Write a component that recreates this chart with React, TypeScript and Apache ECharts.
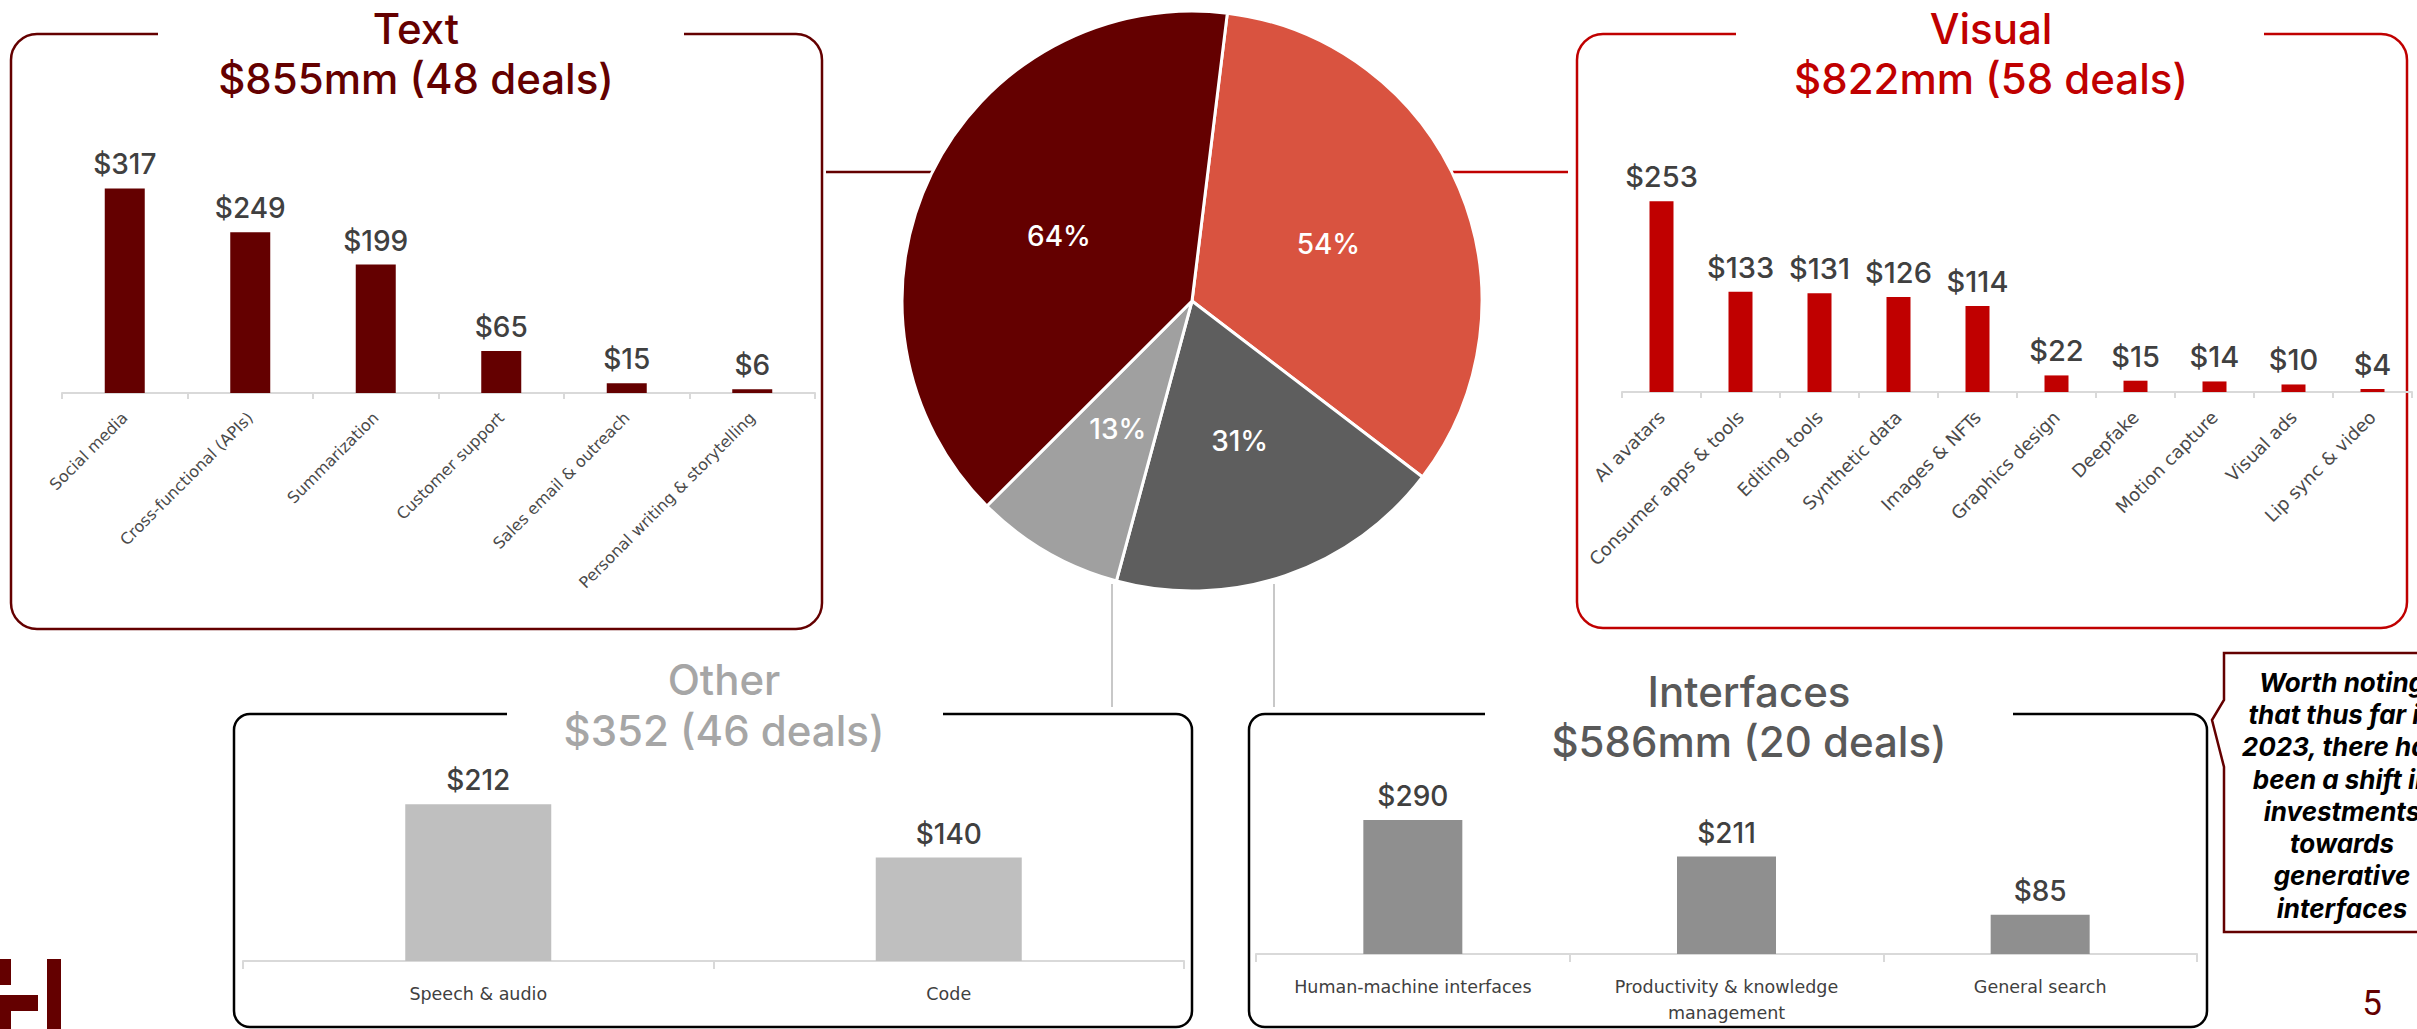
import React, { useEffect, useRef } from "react";
import * as echarts from "echarts";

// ---------- data ----------
const textCategories = [
  "Social media",
  "Cross-functional (APIs)",
  "Summarization",
  "Customer support",
  "Sales email & outreach",
  "Personal writing & storytelling",
];
const textValues = [317, 249, 199, 65, 15, 6];

const visualCategories = [
  "AI avatars",
  "Consumer apps & tools",
  "Editing tools",
  "Synthetic data",
  "Images & NFTs",
  "Graphics design",
  "Deepfake",
  "Motion capture",
  "Visual ads",
  "Lip sync & video",
];
const visualValues = [253, 133, 131, 126, 114, 22, 15, 14, 10, 4];

const otherCategories = ["Speech & audio", "Code"];
const otherValues = [212, 140];

const interfaceCategories = [
  "Human-machine interfaces",
  "Productivity & knowledge\nmanagement",
  "General search",
];
const interfaceValues = [290, 211, 85];

const pieNames = ["Visual", "Interfaces", "Other", "Text"];
const pieShares = [33.4, 18.8, 8.3, 39.4];
const pieLabels = ["54%", "31%", "13%", "64%"];

const panelTitles = [
  ["Text", "$855mm (48 deals)"],
  ["Visual", "$822mm (58 deals)"],
  ["Other", "$352 (46 deals)"],
  ["Interfaces", "$586mm (20 deals)"],
];

const noteLines = [
  "Worth noting",
  "that thus far in",
  "2023, there has",
  "been a shift in",
  "investments",
  "towards",
  "generative",
  "interfaces",
];
const pageNumber = "5";

// ---------- styles ----------
const C_TEXT = "#640000";
const C_VISUAL = "#C00000";
const C_PIE_VISUAL = "#D95340";
const C_PIE_INTERF = "#5E5E5E";
const C_PIE_OTHER = "#A0A0A0";
const C_BAR_OTHER = "#BFBFBF";
const C_BAR_INTERF = "#8F8F8F";
const VALUE_COLOR = "#404040";
const AXIS_COLOR = "#D9D9D9";
const MAIN_FONT = "Inter";

function makeAxis(gridIndex: number, data: string[], label: any, tickLen: number) {
  return {
    type: "category",
    gridIndex,
    data,
    axisLine: { show: true, lineStyle: { color: AXIS_COLOR, width: 2 } },
    axisTick: { show: true, length: tickLen, lineStyle: { color: AXIS_COLOR, width: 2 } },
    axisLabel: label,
  };
}

function makeBar(idx: number, data: number[], color: string, barWidth: number, fontSize: number) {
  return {
    type: "bar",
    xAxisIndex: idx,
    yAxisIndex: idx,
    data,
    barWidth,
    itemStyle: { color },
    label: {
      show: true,
      position: "top",
      distance: 10,
      formatter: (p: any) => "$" + p.value,
      color: VALUE_COLOR,
      fontSize,
      fontWeight: 500,
      fontFamily: MAIN_FONT,
    },
  };
}

function titleText(x: number, y: number, text: string, color: string) {
  return {
    type: "text",
    x,
    y,
    z: 5,
    style: {
      text,
      align: "center",
      verticalAlign: "middle",
      fontSize: 42,
      fontFamily: MAIN_FONT,
      fontWeight: 500,
      fill: color,
    },
  };
}

function box(x: number, y: number, w: number, h: number, r: number, color: string, gapFrom: number, gapTo: number) {
  return [
    {
      type: "rect",
      z: 0,
      shape: { x, y, width: w, height: h, r },
      style: { fill: "none", stroke: color, lineWidth: 2.5 },
    },
    {
      type: "rect",
      z: 1,
      shape: { x: gapFrom, y: y - 4, width: gapTo - gapFrom, height: 8 },
      style: { fill: "#ffffff", stroke: "none" },
    },
  ];
}

function line(x1: number, y1: number, x2: number, y2: number, color: string, w: number) {
  return {
    type: "line",
    z: 0,
    shape: { x1, y1, x2, y2 },
    style: { stroke: color, lineWidth: w },
  };
}

export default function App() {
  const ref = useRef<HTMLDivElement>(null);

  useEffect(() => {
    if (!ref.current) return;
    const chart = echarts.init(ref.current, undefined, { renderer: "svg" });

    const rotLabel = (fontSize: number) => ({
      rotate: 45,
      margin: 22,
      fontSize,
      fontFamily: "DejaVu Sans",
      color: "#4A4A4A",
      interval: 0,
    });
    const flatLabel = {
      margin: 20,
      fontSize: 17.5,
      fontFamily: "DejaVu Sans",
      color: "#404040",
      interval: 0,
      lineHeight: 26,
    };

    const graphics: any[] = [];
    graphics.push(...box(11, 34, 811, 595, 26, C_TEXT, 158, 684));
    graphics.push(...box(1577, 34, 830, 594, 26, C_VISUAL, 1736, 2264));
    graphics.push(...box(234, 714, 958, 313, 16, "#000000", 507, 943));
    graphics.push(...box(1249, 714, 958, 313, 16, "#000000", 1485, 2013));

    graphics.push(line(826, 172, 934, 172, C_TEXT, 2.5));
    graphics.push(line(1450, 172, 1568, 172, C_VISUAL, 2.5));
    graphics.push(line(1112, 584, 1112, 707, "#C8C8C8", 2));
    graphics.push(line(1274, 584, 1274, 707, "#C8C8C8", 2));

    graphics.push(titleText(416, 28, panelTitles[0][0], C_TEXT));
    graphics.push(titleText(416, 78, panelTitles[0][1], C_TEXT));
    graphics.push(titleText(1991, 28, panelTitles[1][0], C_VISUAL));
    graphics.push(titleText(1991, 78, panelTitles[1][1], C_VISUAL));
    graphics.push(titleText(724, 679, panelTitles[2][0], "#A6A6A6"));
    graphics.push(titleText(724, 730, panelTitles[2][1], "#A6A6A6"));
    graphics.push(titleText(1749, 691, panelTitles[3][0], "#595959"));
    graphics.push(titleText(1749, 741, panelTitles[3][1], "#595959"));

    graphics.push({
      type: "polygon",
      z: 1,
      shape: {
        points: [
          [2224, 653],
          [2440, 653],
          [2440, 932],
          [2224, 932],
          [2224, 767],
          [2212, 720],
          [2224, 700],
        ],
      },
      style: { fill: "#ffffff", stroke: C_TEXT, lineWidth: 2.5 },
    });
    graphics.push({
      type: "text",
      x: 2342,
      y: 666,
      z: 5,
      style: {
        text: noteLines.join("\n"),
        align: "center",
        verticalAlign: "top",
        fontSize: 26,
        lineHeight: 32.3,
        fontFamily: MAIN_FONT,
        fontWeight: 700,
        fontStyle: "italic",
        fill: "#000000",
      },
    });

    graphics.push({
      type: "text",
      x: 2372,
      y: 1003,
      z: 5,
      style: {
        text: pageNumber,
        align: "center",
        verticalAlign: "middle",
        fontSize: 35,
        fontFamily: "Roboto",
        fill: C_TEXT,
      },
    });

    const logoRects = [
      [0, 959, 11, 26],
      [0, 995, 38, 16],
      [0, 1011, 11, 18],
      [47, 959, 14, 70],
    ];
    logoRects.forEach(([x, y, w, h]) =>
      graphics.push({ type: "rect", z: 1, shape: { x, y, width: w, height: h }, style: { fill: C_TEXT } })
    );

    const option: any = {
      animation: false,
      backgroundColor: "#ffffff",
      grid: [
        { left: 62, top: 100, width: 753, height: 293 },
        { left: 1622, top: 100, width: 790, height: 292 },
        { left: 243, top: 760, width: 941, height: 201 },
        { left: 1256, top: 760, width: 941, height: 194 },
      ],
      xAxis: [
        makeAxis(0, textCategories, rotLabel(16), 6),
        makeAxis(1, visualCategories, rotLabel(18), 6),
        makeAxis(2, otherCategories, flatLabel, 8),
        makeAxis(3, interfaceCategories, flatLabel, 8),
      ],
      yAxis: [
        { type: "value", gridIndex: 0, min: 0, max: 454, show: false },
        { type: "value", gridIndex: 1, min: 0, max: 387.5, show: false },
        { type: "value", gridIndex: 2, min: 0, max: 272, show: false },
        { type: "value", gridIndex: 3, min: 0, max: 420, show: false },
      ],
      series: [
        makeBar(0, textValues, C_TEXT, 40, 28),
        makeBar(1, visualValues, C_VISUAL, 24, 29),
        makeBar(2, otherValues, C_BAR_OTHER, 146, 28),
        makeBar(3, interfaceValues, C_BAR_INTERF, 99, 28),
        {
          type: "pie",
          center: [1192, 301],
          radius: [0, 290],
          startAngle: 83,
          clockwise: true,
          avoidLabelOverlap: false,
          itemStyle: { borderColor: "#ffffff", borderWidth: 3 },
          label: {
            show: true,
            position: "inside",
            color: "#ffffff",
            fontSize: 28,
            fontWeight: 500,
            fontFamily: MAIN_FONT,
            formatter: (p: any) => pieLabels[p.dataIndex],
          },
          labelLine: { show: false },
          emphasis: { disabled: true },
          data: pieNames.map((name, i) => ({
            name,
            value: pieShares[i],
            itemStyle: { color: [C_PIE_VISUAL, C_PIE_INTERF, C_PIE_OTHER, C_TEXT][i] },
          })),
        },
      ],
      graphic: { elements: graphics },
    };

    chart.setOption(option);
    return () => chart.dispose();
  }, []);

  return (
    <div
      ref={ref}
      style={{ position: "fixed", left: 0, top: 0, width: 2417, height: 1029, background: "#fff" }}
    />
  );
}
